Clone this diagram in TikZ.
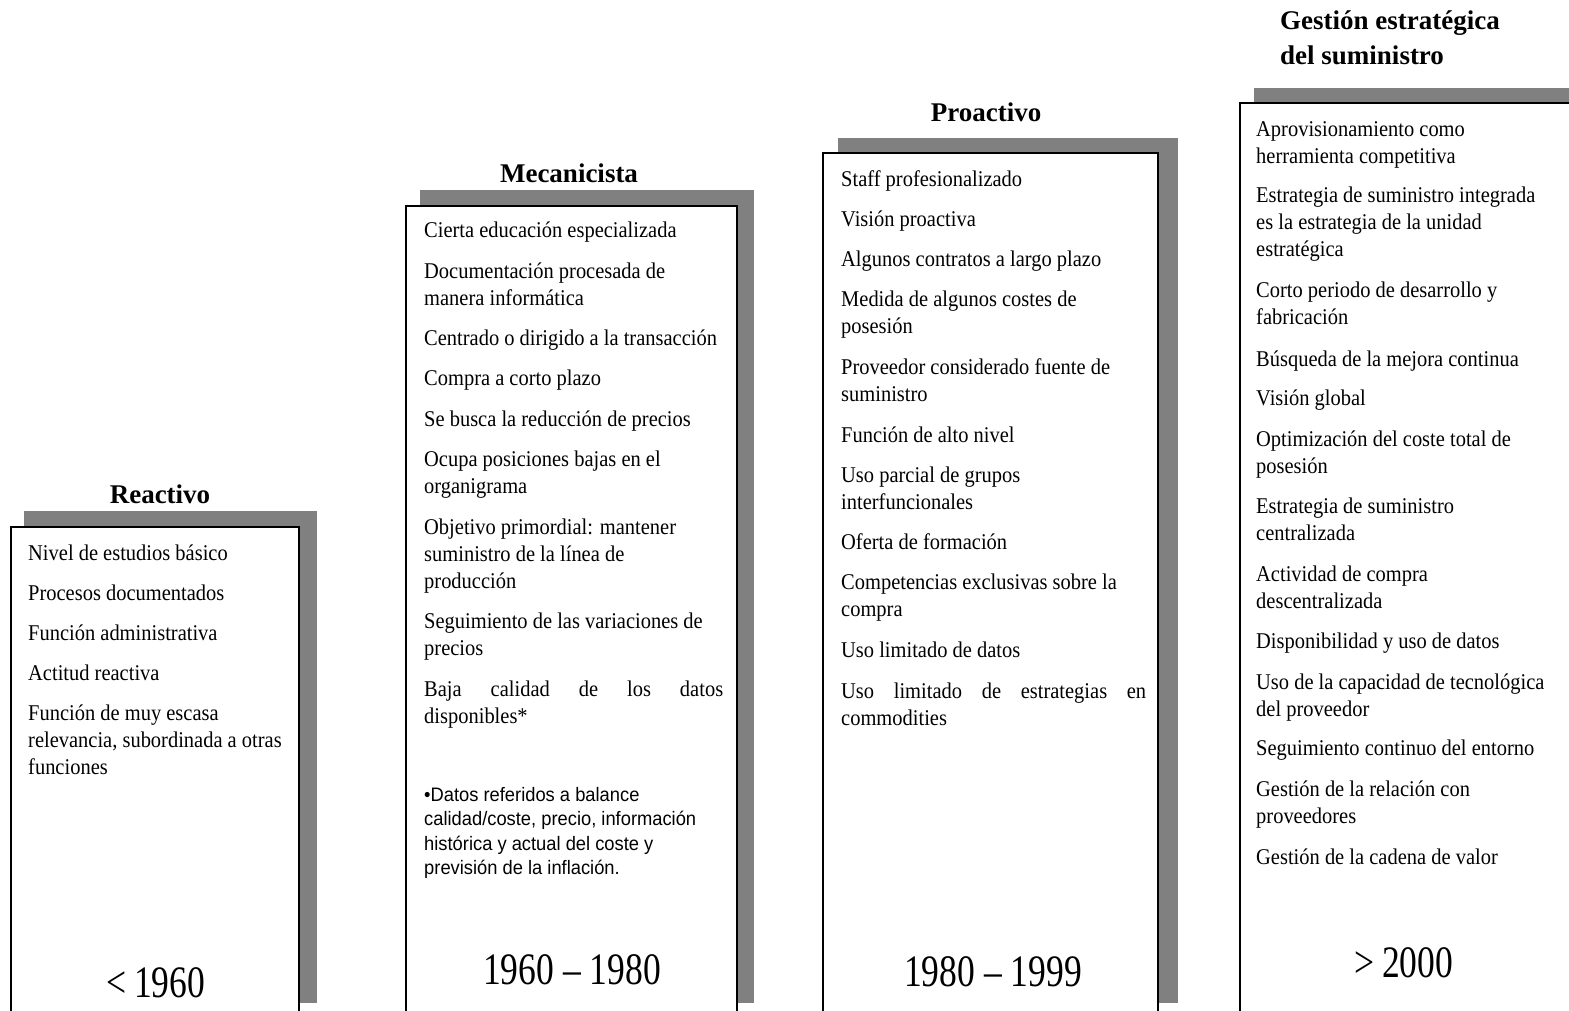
\documentclass[tikz,border=0pt]{standalone}
\usepackage{fontspec}
\setmainfont{Liberation Serif}
\newfontfamily\bodyfont[FakeStretch=0.91]{Liberation Serif}
\newfontfamily\yearfont[FakeStretch=0.79]{Liberation Serif}
\newfontfamily\notefont[FakeStretch=0.94]{Liberation Sans}
\definecolor{shadowgray}{HTML}{808080}
\newcommand\itemlines[1]{\parbox[t]{340pt}{\raggedright #1}}
\begin{document}
\begin{tikzpicture}[x=1pt,y=-1pt,
  shade/.style={fill=shadowgray,draw=none},
  colbox/.style={fill=white,draw=black,line width=1.3pt},
  item/.style={anchor=base west,inner sep=0pt,font=\bodyfont\fontsize{22.5}{27}\selectfont},
  note/.style={anchor=base west,inner sep=0pt,font=\notefont\fontsize{19.5}{24.5}\selectfont},
  title/.style={anchor=base,inner sep=0pt,font=\bfseries\fontsize{27}{35}\selectfont},
  year/.style={anchor=base,inner sep=0pt,font=\yearfont\fontsize{45}{50}\selectfont}]
\useasboundingbox (0,0) rectangle (1569,1011);
\clip (0,0) rectangle (1569,1011);
\fill[white] (0,0) rectangle (1569,1011);

% column frames with their offset shadows
\path[shade] (24,511) rectangle (317,1003);
\path[colbox] (11,527) rectangle (299,1040);
\path[shade] (420,190) rectangle (754,1003);
\path[colbox] (406,206) rectangle (737,1040);
\path[shade] (838,138) rectangle (1178,1003);
\path[colbox] (823,153) rectangle (1158,1040);
\path[shade] (1254,88) rectangle (1620,1003);
\path[colbox] (1240,103) rectangle (1610,1040);

% titles
\node[title] (t1) at (160,503) {Reactivo};
\node[title] (t2) at (569,183) {Mecanicista};
\node[title] (t3) at (986,122) {Proactivo};
\node[title,anchor=base west] (t4) at (1280,30) {\parbox[t]{300pt}{\raggedright Gestión estratégica\\del suministro}};

% Reactivo
\node[item] (a1) at (28,560) {\itemlines{Nivel de estudios básico}};
\node[item] (a2) at (28,600) {\itemlines{Procesos documentados}};
\node[item] (a3) at (28,640) {\itemlines{Función administrativa}};
\node[item] (a4) at (28,680) {\itemlines{Actitud reactiva}};
\node[item] (a5) at (28,720) {\itemlines{Función de muy escasa\\relevancia, subordinada a otras\\funciones}};

% Mecanicista
\node[item] (b1) at (424,238) {\itemlines{Cierta educación especializada}};
\node[item] (b2) at (424,278) {\itemlines{Documentación procesada de\\manera informática}};
\node[item] (b3) at (424,345) {\itemlines{Centrado o dirigido a la transacción}};
\node[item] (b4) at (424,385) {\itemlines{Compra a corto plazo}};
\node[item] (b5) at (424,426) {\itemlines{Se busca la reducción de precios}};
\node[item] (b6) at (424,466) {\itemlines{Ocupa posiciones bajas en el\\organigrama}};
\node[item] (b7) at (424,534) {\itemlines{Objetivo primordial: mantener\\suministro de la línea de\\producción}};
\node[item] (b8) at (424,628) {\itemlines{Seguimiento de las variaciones de\\precios}};
\node[item] (b9) at (424,696) {\itemlines{\makebox[299pt][s]{Baja calidad de los datos}\\disponibles*}};
\node[note] (bn) at (424,801) {\itemlines{•Datos referidos a balance\\calidad/coste, precio, información\\histórica y actual del coste y\\previsión de la inflación.}};

% Proactivo
\node[item] (c1) at (841,187) {\itemlines{Staff profesionalizado}};
\node[item] (c2) at (841,227) {\itemlines{Visión proactiva}};
\node[item] (c3) at (841,266) {\itemlines{Algunos contratos a largo plazo}};
\node[item] (c4) at (841,306) {\itemlines{Medida de algunos costes de\\posesión}};
\node[item] (c5) at (841,374) {\itemlines{Proveedor considerado fuente de\\suministro}};
\node[item] (c6) at (841,442) {\itemlines{Función de alto nivel}};
\node[item] (c7) at (841,482) {\itemlines{Uso parcial de grupos\\interfuncionales}};
\node[item] (c8) at (841,549) {\itemlines{Oferta de formación}};
\node[item] (c9) at (841,589) {\itemlines{Competencias exclusivas sobre la\\compra}};
\node[item] (c10) at (841,657) {\itemlines{Uso limitado de datos}};
\node[item] (c11) at (841,698) {\itemlines{\makebox[305pt][s]{Uso limitado de estrategias en}\\commodities}};

% Gestion estrategica del suministro
\node[item] (d1) at (1256,137) {\itemlines{Aprovisionamiento como\\herramienta competitiva}};
\node[item] (d2) at (1256,203) {\itemlines{Estrategia de suministro integrada\\es la estrategia de la unidad\\estratégica}};
\node[item] (d3) at (1256,298) {\itemlines{Corto periodo de desarrollo y\\fabricación}};
\node[item] (d4) at (1256,366) {\itemlines{Búsqueda de la mejora continua}};
\node[item] (d5) at (1256,405) {\itemlines{Visión global}};
\node[item] (d6) at (1256,446) {\itemlines{Optimización del coste total de\\posesión}};
\node[item] (d7) at (1256,513) {\itemlines{Estrategia de suministro\\centralizada}};
\node[item] (d8) at (1256,581) {\itemlines{Actividad de compra\\descentralizada}};
\node[item] (d9) at (1256,648) {\itemlines{Disponibilidad y uso de datos}};
\node[item] (d10) at (1256,689) {\itemlines{Uso de la capacidad de tecnológica\\del proveedor}};
\node[item] (d11) at (1256,755) {\itemlines{Seguimiento continuo del entorno}};
\node[item] (d12) at (1256,796) {\itemlines{Gestión de la relación con\\proveedores}};
\node[item] (d13) at (1256,864) {\itemlines{Gestión de la cadena de valor}};

% periods
\node[year] (y1) at (156,997) {<\,1960};
\node[year] (y2) at (572,984) {1960 – 1980};
\node[year] (y3) at (993,986) {1980 – 1999};
\node[year] (y4) at (1404,977) {>\,2000};
\end{tikzpicture}
\end{document}
